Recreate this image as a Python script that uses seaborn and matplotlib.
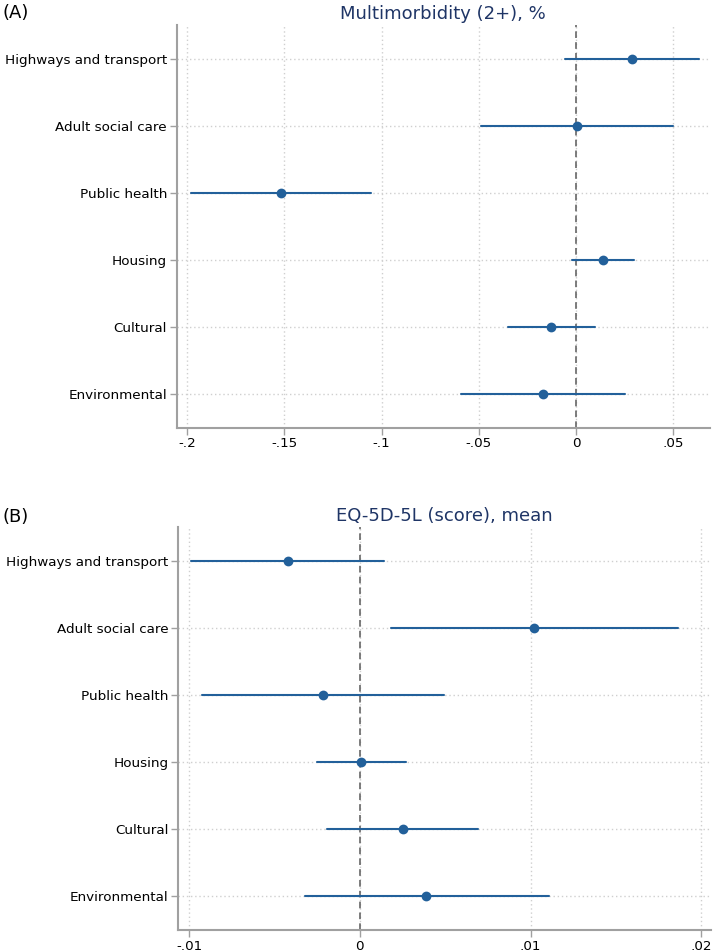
import pandas as pd
import seaborn as sns
import matplotlib.pyplot as plt

# -------------------------------
# Data
# -------------------------------
categories = ["Highways and transport", "Adult social care", "Public health",
              "Housing", "Cultural", "Environmental"]

# Panel A: Multimorbidity (2+), %
mm_est = [0.029, 0.0007, -0.1517, 0.014, -0.0127, -0.017]
mm_lo = [-0.0055, -0.0489, -0.198, -0.0019, -0.0351, -0.0592]
mm_hi = [0.0633, 0.050, -0.1054, 0.030, 0.0098, 0.0254]
mm_ticks = [-0.2, -0.15, -0.1, -0.05, 0, 0.05]
mm_ticklabels = ["-.2", "-.15", "-.1", "-.05", "0", ".05"]

# Panel B: EQ-5D-5L (score), mean
eq_est = [-0.00423, 0.0102, -0.00215, 0.00008, 0.00252, 0.0039]
eq_lo = [-0.0099, 0.00183, -0.00923, -0.0025, -0.00191, -0.00323]
eq_hi = [0.00144, 0.01862, 0.00492, 0.00272, 0.00695, 0.01108]
eq_ticks = [-0.01, 0, 0.01, 0.02]
eq_ticklabels = ["-.01", "0", ".01", ".02"]

LINE = "#22609a"
TITLE = "#1f3566"
SPINE = "#a0a0a0"
GRID = "#cfcfcf"

sns.set_theme(style="white")
plt.rcParams["font.family"] = ["DejaVu Sans"]

fig = plt.figure(figsize=(7.14, 9.52), dpi=100)
ax_a = fig.add_axes([0.2475, 0.5507, 0.7469, 0.4230])
ax_b = fig.add_axes([0.2497, 0.0231, 0.7461, 0.4233])


def long_table(est, lo, hi):
    rows = []
    for c, e, l, h in zip(categories, est, lo, hi):
        for v in (l, e, h):
            rows.append({"category": c, "value": v})
    return pd.DataFrame(rows)


def draw_panel(ax, est, lo, hi, ticks, ticklabels, xlim, title):
    df = long_table(est, lo, hi)
    # median of (lo, est, hi) = est, full range = CI
    sns.pointplot(data=df, x="value", y="category", order=categories,
                  estimator="median", errorbar=("pi", 100),
                  color=LINE, linestyle="none", markersize=5,
                  err_kws={"linewidth": 1.5}, ax=ax, zorder=4)

    ax.set_ylim(len(categories) - 0.5, -0.5)
    ax.set_xlim(*xlim)
    ax.set_xticks(ticks)
    ax.set_xticklabels(ticklabels)
    ax.set_xlabel("")
    ax.set_ylabel("")

    # dotted grid both ways
    for t in ticks:
        ax.axvline(t, color=GRID, lw=1, ls=(0, (1, 2)), zorder=0)
    for i in range(len(categories)):
        ax.axhline(i, color=GRID, lw=1, ls=(0, (1, 2)), zorder=0)
    ax.axvline(0, color="#666666", lw=1.2, ls=(0, (4, 2.5)), zorder=2)

    sns.despine(ax=ax)
    for s in ("left", "bottom"):
        ax.spines[s].set_color(SPINE)
        ax.spines[s].set_linewidth(1.5)
    ax.tick_params(axis="both", which="both", length=5, width=1,
                   color=SPINE, labelsize=9.7, labelcolor="black",
                   left=True, bottom=True, pad=2)

    ax.set_title(title, color=TITLE, fontsize=13, pad=4)


draw_panel(ax_a, mm_est, mm_lo, mm_hi, mm_ticks, mm_ticklabels,
           (-0.2054, 0.0689), "Multimorbidity (2+), %")
draw_panel(ax_b, eq_est, eq_lo, eq_hi, eq_ticks, eq_ticklabels,
           (-0.01063, 0.02057), "EQ-5D-5L (score), mean")

fig.text(0.003, 1 - 13 / 952, "(A)", fontsize=13, ha="left", va="center",
         color="black")
fig.text(0.003, 1 - 517 / 952, "(B)", fontsize=13, ha="left", va="center",
         color="black")

fig.savefig("out.png", dpi=100)
